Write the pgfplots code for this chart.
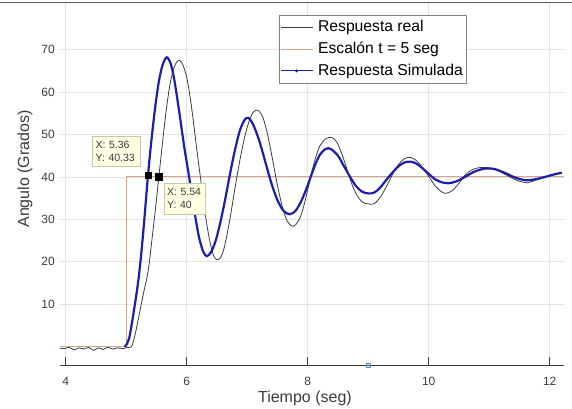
\documentclass[border=0pt]{standalone}
\usepackage{fontspec}
\setmainfont{Liberation Sans}
\usepackage{pgfplots}
\pgfplotsset{compat=1.18}
\definecolor{simblue}{RGB}{30,30,170}
\definecolor{stepc}{RGB}{212,165,135}
\definecolor{realc}{RGB}{60,60,60}
\definecolor{gridc}{RGB}{228,228,228}
\definecolor{tickc}{RGB}{60,60,60}
\definecolor{tipfill}{RGB}{255,255,228}
\definecolor{tipdraw}{RGB}{200,200,165}
\definecolor{legdraw}{RGB}{130,130,130}
\definecolor{sqblue}{RGB}{70,140,190}
\definecolor{topline}{RGB}{90,90,90}
\begin{document}
\begin{tikzpicture}
\begin{axis}[
  at={(0pt,0pt)}, anchor=south west,
  scale only axis, width=504pt, height=362.3pt,
  xmin=3.906, xmax=12.236, ymin=-4.43, ymax=81,
  axis x line*=bottom, axis y line*=left,
  y axis line style={draw=none},
  x axis line style={draw=tickc, line width=0.8pt, -},
  xtick={4,6,...,12}, ytick={10,20,...,70},
  tick align=inside,
  xtick style={draw=tickc, line width=0.8pt}, major tick length=8pt,
  ytick style={draw=none},
  grid=major, grid style={gridc, line width=0.6pt},
  /pgf/number format/assume math mode=true,
  tick label style={font=\fontsize{12}{14}\selectfont, text=tickc},
  xticklabel style={anchor=center, yshift=-15.7pt},
  yticklabel style={anchor=east, inner sep=0pt, xshift=-5pt},
  xlabel={Tiempo (seg)}, ylabel={Angulo (Grados)},
  label style={font=\fontsize{16}{19}\selectfont, text=tickc},
  xlabel style={at={(axis description cs:0.486,-0.090)}, anchor=center},
  ylabel style={at={(axis description cs:-0.0694,0.542)}, anchor=center},
  clip=false,
  legend style={at={(axis description cs:0.4345,0.967)}, anchor=north west,
    draw=legdraw, fill=white, font=\fontsize{15.7}{18}\selectfont,
    inner xsep=1pt, inner ysep=1.5pt, row sep=0pt, column sep=0pt,
    nodes={text height=11.6pt, text depth=3.4pt, inner ysep=3.35pt}},
  legend cell align=left,
  legend image code/.code={\draw[mark repeat=2,mark phase=2,#1] plot coordinates {(0pt,0pt) (16pt,0pt) (32pt,0pt)}; \path (35pt,0pt);},
]
\addlegendimage{realc, line width=0.8pt}
\addlegendentry{Respuesta real}
\addlegendimage{stepc, line width=0.8pt}
\addlegendentry{Escalón t = 5 seg}
\addlegendimage{simblue, line width=0.9pt, mark=*, mark size=1pt}
\addlegendentry{Respuesta Simulada}

\addplot[stepc, line width=0.9pt, forget plot] coordinates {(3.906,0) (5,0) (5,40) (12.236,40)};

\addplot[realc, line width=0.8pt, smooth, tension=0.5, forget plot] coordinates {
(3.906,-0.4) (3.98,-0.5) (4.06,-0.2) (4.14,-0.8) (4.22,-0.3) (4.3,-0.6) (4.38,-0.2) (4.46,-0.9) (4.54,-0.3) (4.62,-0.7) (4.7,-0.2) (4.78,-0.6) (4.86,-0.3) (4.94,-0.5) (5.02,-0.2) (5.09,0) (5.15,3) (5.2,6.5) (5.25,10) (5.3,13.5) (5.34,16) (5.38,19.5) (5.42,24.5) (5.48,32) (5.54,40) (5.6,48) (5.66,55.5) (5.72,61.5) (5.78,65.3) (5.84,67.2) (5.89,67.4) (5.94,66.3) (6.0,63.5) (6.06,58.5) (6.12,52) (6.18,45) (6.24,38.5) (6.3,32) (6.36,26.5) (6.42,22.5) (6.47,20.8) (6.52,20.5) (6.58,21.5) (6.64,24.5) (6.72,30.5) (6.8,37.5) (6.88,44) (6.96,49.5) (7.04,53.5) (7.11,55.4) (7.18,55.7) (7.26,54) (7.34,49.8) (7.42,44) (7.5,38) (7.58,33) (7.66,29.6) (7.74,28.4) (7.8,28.7) (7.88,30.6) (7.96,34.5) (8.04,39.5) (8.12,44) (8.2,47.3) (8.3,49) (8.4,49.3) (8.48,48.2) (8.56,45.6) (8.64,42.2) (8.72,38.7) (8.8,36) (8.9,34.1) (9.0,33.6) (9.1,33.7) (9.2,35.2) (9.3,37.7) (9.4,40.5) (9.5,42.9) (9.6,44.3) (9.7,44.6) (9.8,43.8) (9.9,42.1) (10.0,40.1) (10.1,38) (10.2,36.6) (10.27,36.1) (10.33,36.3) (10.4,36.9) (10.5,38.5) (10.6,40.4) (10.72,41.7) (10.85,42.2) (11.0,42.1) (11.15,41.4) (11.3,40.3) (11.45,39.2) (11.55,38.8) (11.62,38.6) (11.7,38.9) (11.85,39.6) (12.0,40.3) (12.1,40.6) (12.2,40.9)
};

\addplot[simblue, line width=2.2pt, smooth, tension=0.5, forget plot] coordinates {
(4.97,0) (5.0,0.3) (5.05,2) (5.1,6) (5.15,10.5) (5.2,15.5) (5.25,22) (5.3,30) (5.36,40.33) (5.42,49) (5.48,56.5) (5.54,62.5) (5.6,66.3) (5.67,68.2) (5.74,66.5) (5.8,62.5) (5.88,55) (5.96,47) (6.04,40) (6.12,32.5) (6.2,26) (6.27,22.5) (6.33,21.3) (6.4,22.2) (6.48,25) (6.56,29.5) (6.64,35) (6.72,41) (6.8,46.5) (6.88,51) (6.96,53.5) (7.02,53.9) (7.1,52.3) (7.2,48.5) (7.3,43.5) (7.4,38.5) (7.5,34.5) (7.6,32) (7.7,31.2) (7.8,32) (7.9,34.5) (8.0,38) (8.1,42) (8.2,45.2) (8.3,46.6) (8.38,46.6) (8.5,45) (8.6,42.5) (8.7,40) (8.8,37.8) (8.9,36.5) (9.0,36.1) (9.1,36.3) (9.2,37.5) (9.3,39.3) (9.4,41) (9.5,42.5) (9.6,43.4) (9.7,43.6) (9.8,43.1) (9.9,42) (10.0,40.7) (10.1,39.5) (10.2,38.8) (10.32,38.5) (10.45,38.9) (10.6,40) (10.75,41.2) (10.9,41.9) (11.0,42) (11.1,41.8) (11.25,41) (11.4,40) (11.5,39.5) (11.62,39.2) (11.75,39.4) (11.9,39.9) (12.05,40.5) (12.2,41.0)
};

\addplot[only marks, mark=square*, mark size=3.2pt, black, forget plot] coordinates {(5.36,40.33) (5.54,40)};
\addplot[only marks, mark=square, mark size=2pt, sqblue, line width=0.8pt, forget plot] coordinates {(9.0,-4.43)};

\node[draw=tipdraw, fill=tipfill, anchor=north west, minimum height=30pt, text width=41pt, inner xsep=3.5pt, inner ysep=0pt, align=left, font=\fontsize{10.5}{12.7}\selectfont, text=realc] at (axis cs:4.435,49.58) {X: 5.36\\Y: 40.33};
\node[draw=tipdraw, fill=tipfill, anchor=north west, minimum height=30.6pt, text width=35pt, inner xsep=3pt, inner ysep=0pt, align=left, font=\fontsize{10.5}{12.7}\selectfont, text=realc] at (axis cs:5.625,38.58) {X: 5.54\\Y: 40};
\end{axis}
\draw[line width=1.6pt, topline] (-60pt,362.8pt) -- (512pt,362.8pt);
\pgfresetboundingbox
\path[use as bounding box] (-60pt,-42.7pt) rectangle (512pt,365.3pt);
\end{tikzpicture}
\end{document}
